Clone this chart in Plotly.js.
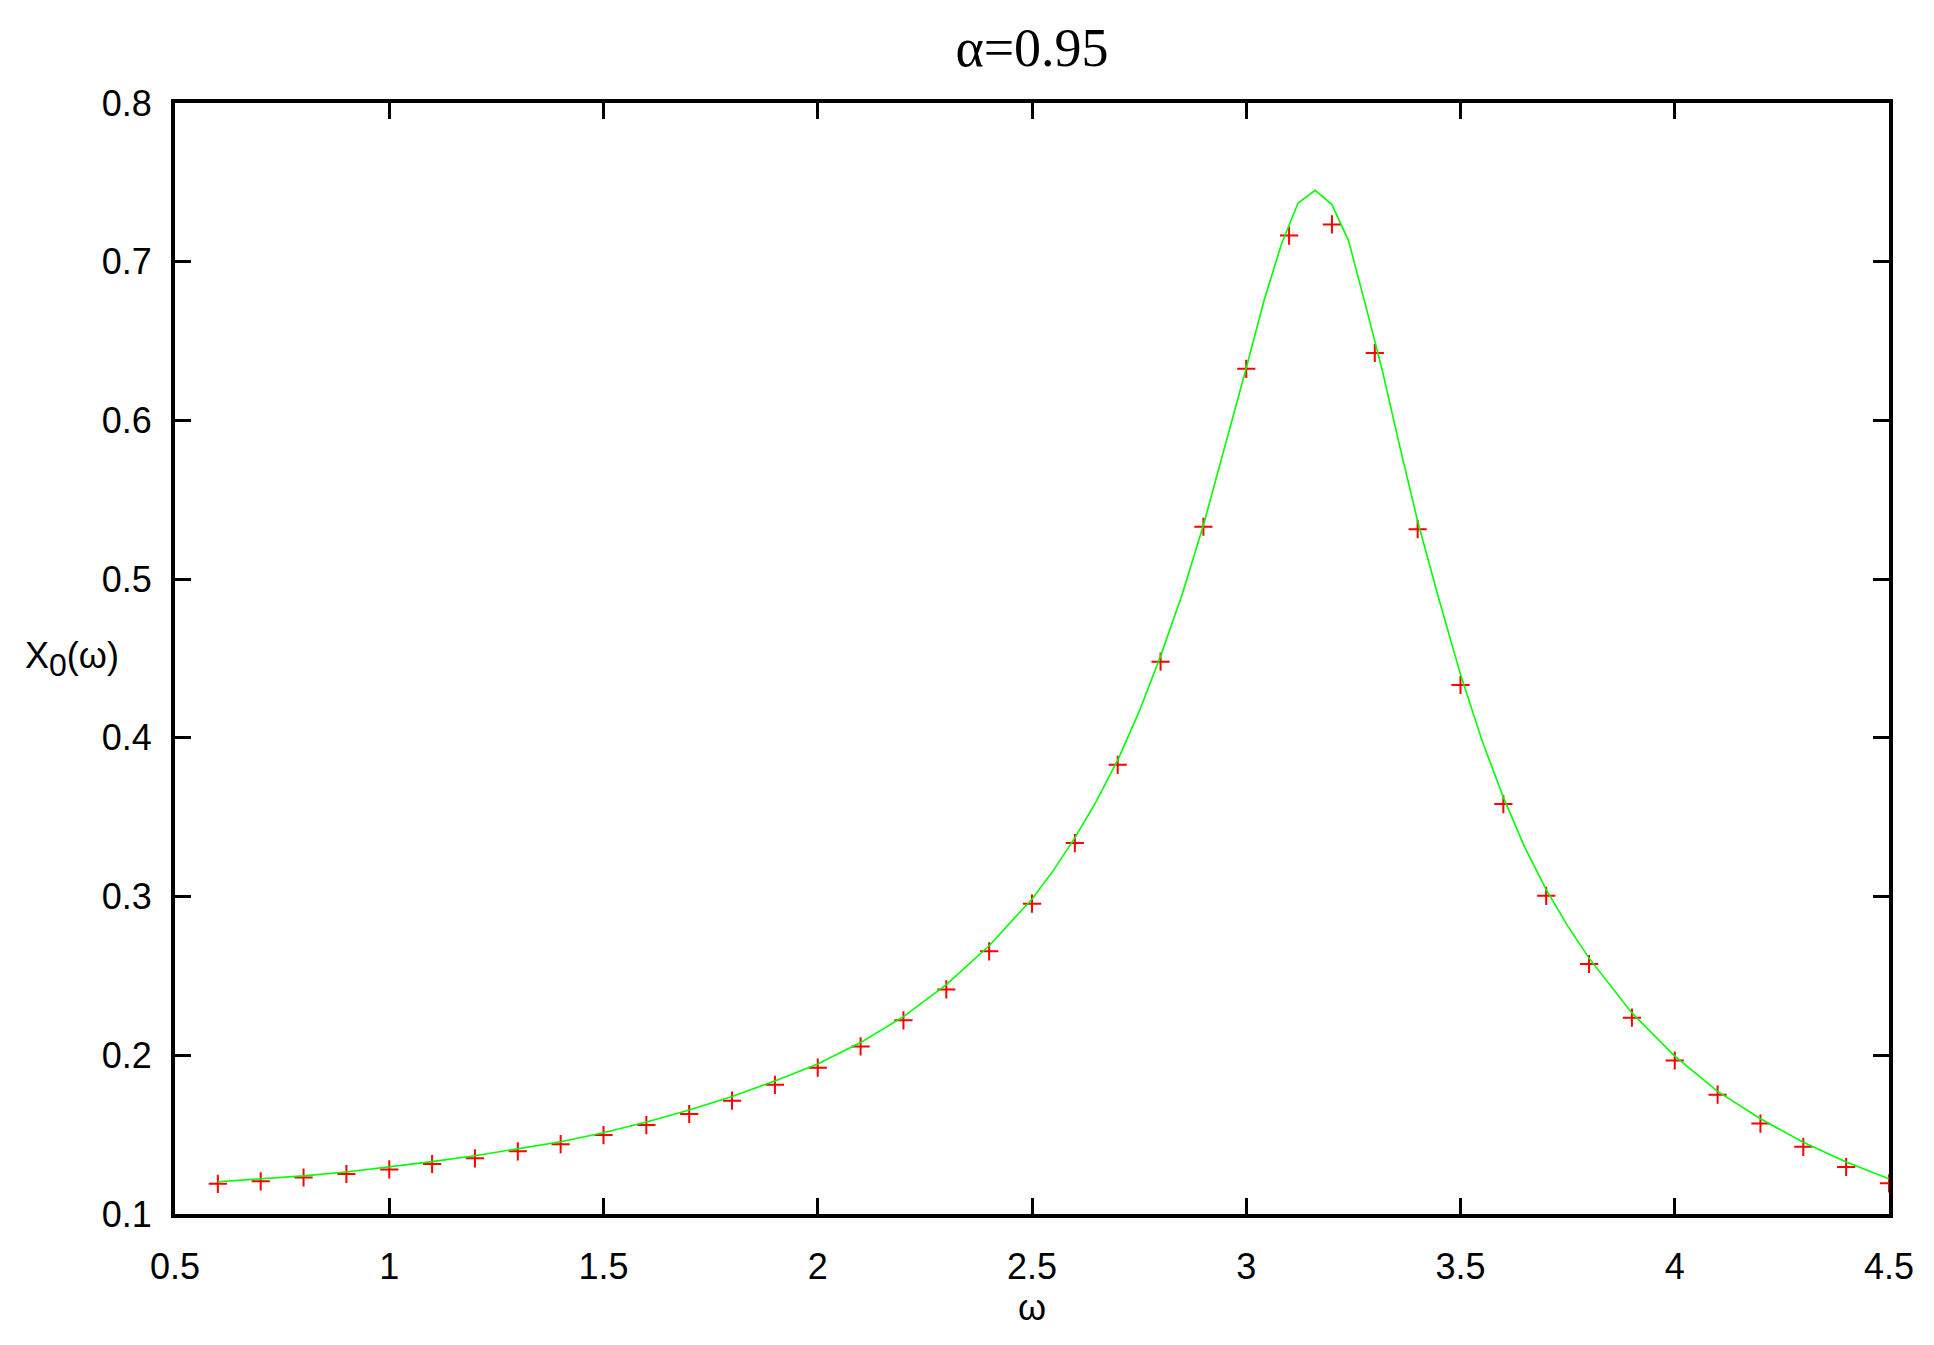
<!DOCTYPE html>
<html>
<head>
<meta charset="utf-8">
<script src="https://cdn.plot.ly/plotly-3.0.1.min.js"></script>
<style>html,body{margin:0;padding:0;background:#fff;}</style>
</head>
<body>
<div id="chart" style="width:1934px;height:1345px;"></div>
<script>
// Data points (red crosses)
const omegaPoints = [0.6,0.7,0.8,0.9,1.0,1.1,1.2,1.3,1.4,1.5,1.6,1.7,1.8,1.9,2.0,2.1,2.2,2.3,2.4,2.5,
  2.6,2.7,2.8,2.9,3.0,3.1,3.2,3.3,3.4,3.5,3.6,3.7,3.8,3.9,4.0,4.1,4.2,4.3,4.4,4.5];
const x0Points = [0.1190,0.1206,0.1230,0.1252,0.1281,0.1315,0.1351,0.1395,0.1440,0.1497,
  0.1560,0.1630,0.1714,0.1814,0.1922,0.2056,0.2220,0.2415,0.2655,0.2955,
  0.3337,0.3830,0.4480,0.5330,0.6325,0.7165,0.7235,0.6425,0.5315,0.4333,
  0.3583,0.3005,0.2575,0.2237,0.1967,0.1752,0.1570,0.1423,0.1296,0.1193];

// Curve (green line)
const omegaCurve = [0.6,0.7,0.8,0.9,1.0,1.1,1.2,1.3,1.4,1.5,1.6,1.7,1.8,1.9,2.0,2.1,2.2,2.3,2.4,2.5,
  2.55,2.6,2.65,2.7,2.75,2.8,2.85,2.9,2.95,3.0,3.042,3.082,3.121,3.161,3.2,3.239,3.279,3.318,3.358,3.4,
  3.45,3.5,3.55,3.6,3.65,3.7,3.75,3.8,3.9,4.0,4.1,4.2,4.3,4.4,4.5];
const x0Curve = [0.1203,0.1220,0.1240,0.1265,0.1296,0.1330,0.1367,0.1409,0.1455,0.1512,
  0.1580,0.1655,0.1740,0.1838,0.1945,0.2080,0.2244,0.2445,0.2690,0.2985,
  0.3165,0.3370,0.3600,0.3860,0.4165,0.4515,0.4900,0.5340,0.5830,0.6330,
  0.6760,0.7110,0.7370,0.7450,0.7360,0.7130,0.6720,0.6310,0.5840,0.5365,
  0.4870,0.4400,0.3985,0.3625,0.3310,0.3044,0.2815,0.2612,0.2267,0.1995,
  0.1773,0.1600,0.1452,0.1328,0.1222];

const xTickVals = [0.5,1,1.5,2,2.5,3,3.5,4,4.5];
const xTickText = ['0.5','1','1.5','2','2.5','3','3.5','4','4.5'];
const yTickVals = [0.1,0.2,0.3,0.4,0.5,0.6,0.7,0.8];
const yTickText = ['0.1','0.2','0.3','0.4','0.5','0.6','0.7','0.8'];

const traces = [
  {
    x: omegaPoints, y: x0Points, type: 'scatter', mode: 'markers',
    marker: {symbol: 'cross-thin-open', size: 13, color: '#ff0000', line: {color: '#ff0000', width: 2}},
    hoverinfo: 'x+y'
  },
  {
    x: omegaCurve, y: x0Curve, type: 'scatter', mode: 'lines',
    line: {color: '#00ff00', width: 1.6}
  }
];

const axisCommon = {
  showline: true, linecolor: '#000', linewidth: 4, mirror: 'ticks',
  ticks: 'inside', ticklen: 16, tickwidth: 3, tickcolor: '#000',
  showgrid: false, zeroline: false,
  tickfont: {family: 'Liberation Sans, Arial, sans-serif', size: 36, color: '#000'}
};

const layout = {
  width: 1934, height: 1345,
  margin: {l: 175, r: 45, t: 103, b: 131, pad: 0},
  paper_bgcolor: '#fff', plot_bgcolor: '#fff',
  showlegend: false,
  title: {
    text: 'α=0.95',
    font: {family: 'Liberation Serif, Times New Roman, serif', size: 54, color: '#000'},
    x: 0.5, xref: 'paper', xanchor: 'center',
    y: 1 - 47/1345, yref: 'container', yanchor: 'middle'
  },
  xaxis: Object.assign({}, axisCommon, {
    range: [0.5, 4.5], tickmode: 'array', tickvals: xTickVals, ticktext: xTickText,
    ticklabelstandoff: 18
  }),
  yaxis: Object.assign({}, axisCommon, {
    range: [0.1, 0.8], tickmode: 'array', tickvals: yTickVals, ticktext: yTickText,
    ticklabelstandoff: 12
  }),
  annotations: [
    {
      text: 'ω', xref: 'paper', yref: 'paper', x: 0.5, y: -0.084,
      xanchor: 'center', yanchor: 'middle', showarrow: false,
      font: {family: 'Liberation Sans, Arial, sans-serif', size: 36, color: '#000'}
    },
    {
      text: 'X<sub><span style="font-size:32px">0</span></sub>(ω)', xref: 'paper', yref: 'paper', x: -0.060, y: 0.50,
      xanchor: 'center', yanchor: 'middle', showarrow: false,
      font: {family: 'Liberation Sans, Arial, sans-serif', size: 36, color: '#000'}
    }
  ]
};

Plotly.newPlot('chart', traces, layout, {staticPlot: true, displayModeBar: false});
</script>
</body>
</html>
